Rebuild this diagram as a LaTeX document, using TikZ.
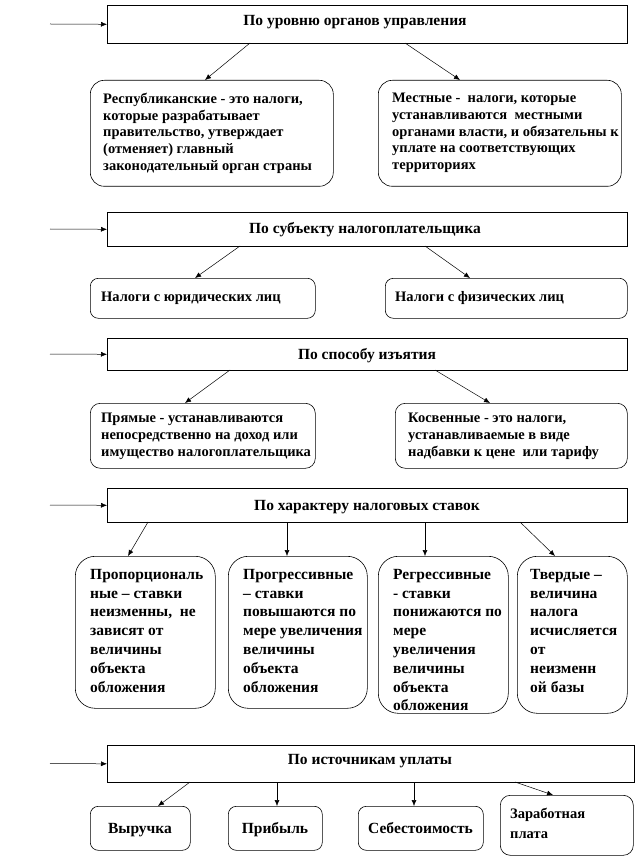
\documentclass[tikz,border=0pt]{standalone}
\usepackage{fontspec}
\setmainfont{Liberation Serif}
\usetikzlibrary{arrows.meta,calc}
\begin{document}
\begin{tikzpicture}[x=1pt,y=-1pt,
 hdr/.style={draw=black, line width=0.6pt, rectangle, inner sep=0pt, anchor=north west},
 rbox/.style={draw=black, line width=0.6pt, rounded corners=#1, inner sep=0pt, anchor=north west},
 rbox/.default=12pt,
 txt/.style={font=\bfseries\fontsize{14.5}{16.7}\selectfont, align=left, inner sep=0pt, anchor=north west},
 ttxt/.style={font=\bfseries\fontsize{15.5}{18.8}\selectfont, align=left, inner sep=0pt, anchor=north west},
 btxt/.style={font=\bfseries\fontsize{15.5}{18}\selectfont, inner sep=0pt, anchor=base},
 htxt/.style={font=\bfseries\fontsize{15.5}{18}\selectfont, inner sep=0pt, anchor=base},
 arr/.style={-{Latex[length=6pt,width=5pt]}, line width=0.5pt},
]
\useasboundingbox (0,0) rectangle (636,858);

% ---------- section 1
\node[hdr, minimum width=520pt, minimum height=38pt] (h1) at (107,5) {};
\node[htxt] (h1t) at (355,26) {По уровню органов управления};
\coordinate (i1) at (50,24);
\draw[arr] (i1) -- (h1.west);
\node[rbox=14pt, minimum width=243pt, minimum height=106pt] (r1) at (90,80) {};
\node[txt] (r1t) at (103,93) {Республиканские - это налоги,\\которые разрабатывает\\правительство, утверждает\\(отменяет) главный\\законодательный орган страны};
\node[rbox=14pt, minimum width=243pt, minimum height=106pt] (m1) at (378,80) {};
\node[txt] (m1t) at (392,93) {Местные -\ \ налоги, которые\\устанавливаются\ \ местными\\органами власти, и обязательны к\\уплате на соответствующих\\территориях};
\coordinate (s1a) at (250,43); \coordinate (e1a) at (205,80);
\coordinate (s1b) at (405,43); \coordinate (e1b) at (460,80);
\draw[arr] (s1a) -- (e1a);
\draw[arr] (s1b) -- (e1b);

% ---------- section 2
\node[hdr, minimum width=520pt, minimum height=34pt] (h2) at (107,212) {};
\node[htxt] (h2t) at (365,234) {По субъекту налогоплательщика};
\coordinate (i2) at (50,229);
\draw[arr] (i2) -- (h2.west);
\node[rbox=8pt, minimum width=225pt, minimum height=40pt] (y1) at (90,278) {};
\node[txt, anchor=west] (y1t) at (101,298) {Налоги с юридических лиц};
\node[rbox=8pt, minimum width=242pt, minimum height=40pt] (f1) at (385,278) {};
\node[txt, anchor=west] (f1t) at (395,298) {Налоги с физических лиц};
\coordinate (s2a) at (240,246); \coordinate (e2a) at (195,278);
\coordinate (s2b) at (425,246); \coordinate (e2b) at (470,278);
\draw[arr] (s2a) -- (e2a);
\draw[arr] (s2b) -- (e2b);

% ---------- section 3
\node[hdr, minimum width=520pt, minimum height=32pt] (h3) at (107,338) {};
\node[htxt] (h3t) at (367,359) {По способу изъятия};
\coordinate (i3) at (50,354);
\draw[arr] (i3) -- (h3.west);
\node[rbox=10pt, minimum width=225pt, minimum height=65pt] (p1) at (90,403) {};
\node[txt] (p1t) at (101,413) {Прямые - устанавливаются\\непосредственно на доход или\\имущество налогоплательщика};
\node[rbox=10pt, minimum width=232pt, minimum height=65pt] (k1) at (395,403) {};
\node[txt] (k1t) at (408,413) {Косвенные - это налоги,\\устанавливаемые в виде\\надбавки к цене\ \ или тарифу};
\coordinate (s3a) at (230,370); \coordinate (e3a) at (185,403);
\coordinate (s3b) at (435,370); \coordinate (e3b) at (490,403);
\draw[arr] (s3a) -- (e3a);
\draw[arr] (s3b) -- (e3b);

% ---------- section 4
\node[hdr, minimum width=520pt, minimum height=34pt] (h4) at (107,488) {};
\node[htxt] (h4t) at (367,510) {По характеру налоговых ставок};
\coordinate (i4) at (50,505);
\draw[arr] (i4) -- (h4.west);
\node[rbox=20pt, minimum width=140pt, minimum height=152pt] (ba) at (75,556) {};
\node[ttxt] (bat) at (90,569) {Пропорциональ\\ные – ставки\\неизменны,\ \ не\\зависят от\\величины\\объекта\\обложения};
\node[rbox=20pt, minimum width=139pt, minimum height=152pt] (bb) at (228,556) {};
\node[ttxt] (bbt) at (243,569) {Прогрессивные\\– ставки\\повышаются по\\мере увеличения\\величины\\объекта\\обложения};
\node[rbox=20pt, minimum width=130pt, minimum height=157pt] (bc) at (378,556) {};
\node[ttxt] (bct) at (393,569) {Регрессивные\\- ставки\\понижаются по\\мере\\увеличения\\величины\\объекта\\обложения};
\node[rbox=20pt, minimum width=110pt, minimum height=157pt] (bd) at (517,556) {};
\node[ttxt] (bdt) at (530,569) {Твердые –\\величина\\налога\\исчисляется\\от\\неизменн\\ой базы};
\coordinate (s4a) at (148,522); \coordinate (e4a) at (128,556);
\coordinate (s4b) at (287,522); \coordinate (e4b) at (287,556);
\coordinate (s4c) at (425,522); \coordinate (e4c) at (425,556);
\coordinate (s4d) at (520,522); \coordinate (e4d) at (555,556);
\draw[arr] (s4a) -- (e4a);
\draw[arr] (s4b) -- (e4b);
\draw[arr] (s4c) -- (e4c);
\draw[arr] (s4d) -- (e4d);

% ---------- section 5
\node[hdr, minimum width=527pt, minimum height=37pt] (h5) at (107,745) {};
\node[htxt] (h5t) at (370,764) {По источникам уплаты};
\coordinate (i5) at (50,763.5);
\draw[arr] (i5) -- (h5.west);
\node[rbox=8pt, minimum width=100pt, minimum height=44pt] (v1) at (90,806) {};
\node[btxt] (v1t) at (140,833) {Выручка};
\node[rbox=8pt, minimum width=94pt, minimum height=44pt] (v2) at (228,806) {};
\node[btxt] (v2t) at (275,833) {Прибыль};
\node[rbox=8pt, minimum width=125pt, minimum height=44pt] (v3) at (358,806) {};
\node[btxt] (v3t) at (420.5,833) {Себестоимость};
\node[rbox=10pt, minimum width=133pt, minimum height=60pt] (v4) at (500,795) {};
\node[txt, font=\bfseries\fontsize{14.5}{19.5}\selectfont] (v4t) at (510,808) {Заработная\\плата};
\coordinate (s5a) at (190,782); \coordinate (e5a) at (158,806);
\coordinate (s5b) at (277,782); \coordinate (e5b) at (277,806);
\coordinate (s5c) at (414,782); \coordinate (e5c) at (414,806);
\coordinate (s5d) at (515,782); \coordinate (e5d) at (553,795);
\draw[arr] (s5a) -- (e5a);
\draw[arr] (s5b) -- (e5b);
\draw[arr] (s5c) -- (e5c);
\draw[arr] (s5d) -- (e5d);
\end{tikzpicture}
\end{document}
